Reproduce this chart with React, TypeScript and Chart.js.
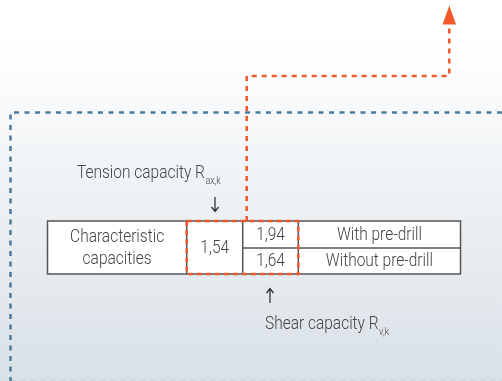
import React, { useEffect, useRef } from "react";
import { Chart, registerables } from "chart.js";
Chart.register(...registerables);

// ---- data ----
const categoryLabel = ["Characteristic", "capacities"];
const tensionLabel = "Tension capacity R";
const tensionSub = "ax,k";
const shearLabel = "Shear capacity R";
const shearSub = "v,k";
const tensionValues = [1.54];
const shearValues = [1.94, 1.64];
const conditionLabels = ["With pre-drill", "Without pre-drill"];

const fmt = (v: number) => v.toFixed(2).replace(".", ",");

// ---- layout (diagram units = px) ----
const W = 502;
const H = 381;
const T = { l: 47.5, r: 460.5, t: 221, b: 274, c1: 186.7, c2: 242.7, c3: 298.3, mid: 248 };
const BLUE = "#4a7c9c";
const ORANGE = "#f0582a";
const TEXT = "#444444";
const SX = 0.815;

function txt(ctx: CanvasRenderingContext2D, s: string, x: number, y: number, size: number, align: string, sx = SX) {
  ctx.save();
  ctx.font = `300 ${size}px Roboto`;
  ctx.textBaseline = "middle";
  ctx.fillStyle = TEXT;
  const w = ctx.measureText(s).width * sx;
  const left = align === "center" ? x - w / 2 : align === "right" ? x - w : x;
  ctx.translate(left, y);
  ctx.scale(sx, 1);
  ctx.textAlign = "left";
  ctx.fillText(s, 0, 0);
  ctx.restore();
  return w;
}

const diagramPlugin = {
  id: "diagram",
  beforeDraw(chart: any) {
    const ctx: CanvasRenderingContext2D = chart.ctx;
    const g = ctx.createLinearGradient(0, 0, 0, H);
    g.addColorStop(0, "#ffffff");
    g.addColorStop(0.11, "#ffffff");
    g.addColorStop(1, "#d9e1e7");
    ctx.save();
    ctx.fillStyle = g;
    ctx.fillRect(0, 0, W, H);
    ctx.restore();
  },
  beforeDatasetsDraw(chart: any) {
    const ctx: CanvasRenderingContext2D = chart.ctx;
    const X = (v: number) => chart.scales.x.getPixelForValue(v);
    const Y = (v: number) => chart.scales.y.getPixelForValue(v);
    // table
    ctx.save();
    ctx.fillStyle = "#ffffff";
    ctx.fillRect(X(T.l), Y(T.t), X(T.r) - X(T.l), Y(T.b) - Y(T.t));
    ctx.strokeStyle = "#555555";
    ctx.lineWidth = 1.5;
    ctx.strokeRect(X(T.l), Y(T.t), X(T.r) - X(T.l), Y(T.b) - Y(T.t));
    ctx.beginPath();
    [T.c1, T.c2, T.c3].forEach((c) => {
      ctx.moveTo(X(c), Y(T.t));
      ctx.lineTo(X(c), Y(T.b));
    });
    ctx.moveTo(X(T.c2), Y(T.mid));
    ctx.lineTo(X(T.r), Y(T.mid));
    ctx.stroke();
    ctx.restore();

    // cell texts
    const fs = 19;
    txt(ctx, categoryLabel[0], X((T.l + T.c1) / 2), Y(237.5), fs, "center");
    txt(ctx, categoryLabel[1], X((T.l + T.c1) / 2), Y(259), fs, "center");
    txt(ctx, fmt(tensionValues[0]), X((T.c1 + T.c2) / 2), Y(248.5), fs, "center");
    const rows = [(T.t + T.mid) / 2, (T.mid + T.b) / 2];
    shearValues.forEach((v, i) => {
      txt(ctx, fmt(v), X((T.c2 + T.c3) / 2), Y(rows[i] + 0.5), fs, "center");
    });
    conditionLabels.forEach((s, i) => {
      txt(ctx, s, X((T.c3 + T.r) / 2), Y(rows[i] + 0.5), fs, "center");
    });

    // labels with subscripts
    const w1 = txt(ctx, tensionLabel, X(77), Y(173), fs, "left");
    txt(ctx, tensionSub, X(77) + w1 + 0.5, Y(181.5), 11, "left");
    const w2 = txt(ctx, shearLabel, X(265), Y(324), fs, "left");
    txt(ctx, shearSub, X(265) + w2 + 0.5, Y(332.5), 11, "left");

    // small arrows
    ctx.save();
    ctx.strokeStyle = "#333333";
    ctx.lineWidth = 1.3;
    ctx.beginPath();
    ctx.moveTo(X(215), Y(197));
    ctx.lineTo(X(215), Y(211.5));
    ctx.moveTo(X(211.5), Y(207));
    ctx.lineTo(X(215), Y(211.5));
    ctx.lineTo(X(218.5), Y(207));
    ctx.moveTo(X(270), Y(303));
    ctx.lineTo(X(270), Y(288.5));
    ctx.moveTo(X(266.5), Y(293));
    ctx.lineTo(X(270), Y(288.5));
    ctx.lineTo(X(273.5), Y(293));
    ctx.stroke();
    ctx.restore();
  },
  afterDatasetsDraw(chart: any) {
    const ctx: CanvasRenderingContext2D = chart.ctx;
    const X = (v: number) => chart.scales.x.getPixelForValue(v);
    const Y = (v: number) => chart.scales.y.getPixelForValue(v);
    ctx.save();
    ctx.fillStyle = ORANGE;
    ctx.beginPath();
    ctx.moveTo(X(449.3), Y(5.5));
    ctx.lineTo(X(456), Y(24.5));
    ctx.lineTo(X(442.6), Y(24.5));
    ctx.closePath();
    ctx.fill();
    ctx.restore();
  },
};

const line = (pts: number[][], color: string, width: number, dash: number[]) => ({
  data: pts.map(([x, y]) => ({ x, y })),
  showLine: true,
  borderColor: color,
  borderWidth: width,
  borderDash: dash,
  pointRadius: 0,
  fill: false,
  tension: 0,
  borderCapStyle: "butt",
  borderJoinStyle: "miter",
});

export default function App() {
  const ref = useRef<HTMLCanvasElement>(null);
  useEffect(() => {
    document.body.style.margin = "0";
    const chart = new Chart(ref.current!, {
      type: "scatter",
      data: {
        datasets: [
          line([[10.5, 380.5], [502, 380.5]], "rgba(74,124,156,0.12)", 2, [5, 5]),
          line([[502, 112.5], [10.5, 112.5], [10.5, 381]], BLUE, 2.5, [5, 5.5]),
          line([[246.7, 221], [246.7, 76], [449.3, 76], [449.3, 24]], ORANGE, 2.5, [5, 5]),
          line([[T.c1, T.t], [T.c3, T.t], [T.c3, T.b], [T.c1, T.b], [T.c1, T.t]], ORANGE, 2.5, [5, 4]),
        ] as any,
      },
      options: {
        animation: false,
        responsive: false,
        maintainAspectRatio: false,
        devicePixelRatio: 1,
        layout: { padding: 0 },
        plugins: { legend: { display: false }, tooltip: { enabled: false } },
        scales: {
          x: { type: "linear", min: 0, max: W, display: false },
          y: { type: "linear", min: 0, max: H, reverse: true, display: false },
        },
      },
      plugins: [diagramPlugin],
    });
    return () => chart.destroy();
  }, []);
  return (
    <div style={{ position: "absolute", left: 0, top: 0, width: W, height: H }}>
      <canvas ref={ref} width={W} height={H} />
    </div>
  );
}
